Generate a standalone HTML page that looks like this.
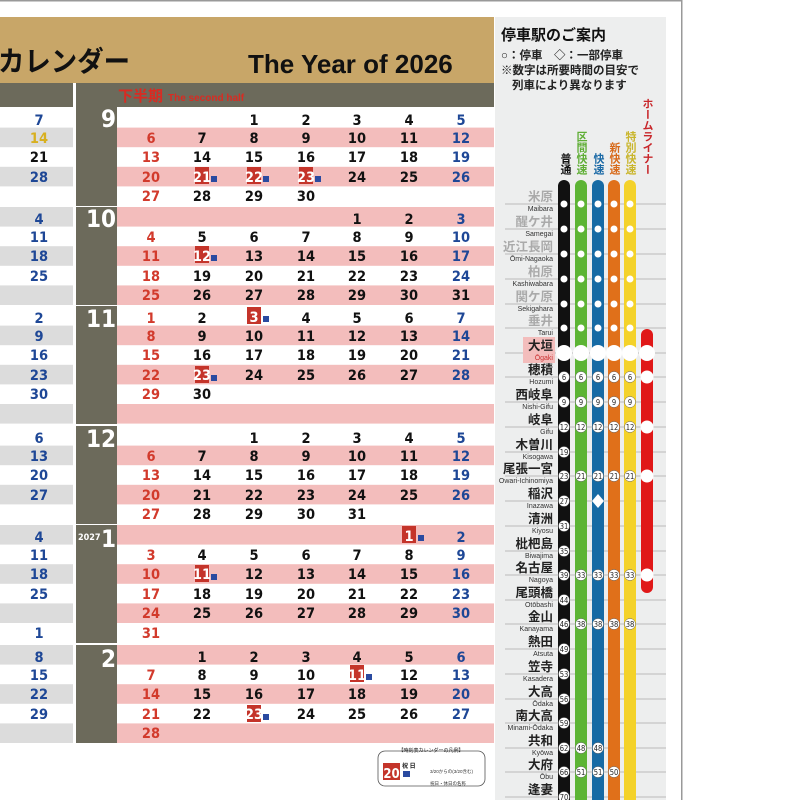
<!DOCTYPE html>
<html><head><meta charset="utf-8"><style>
html,body{margin:0;padding:0;background:#fff;width:800px;height:800px;overflow:hidden}
svg{display:block}
.n{font-family:"DejaVu Sans Condensed","Liberation Sans",sans-serif;font-weight:bold;font-size:14.5px;text-anchor:middle}
.r{fill:#d23a2c}.b{fill:#1e4796}.k{fill:#111}
.jp{font-family:"Liberation Sans","Noto Sans CJK JP",sans-serif;font-weight:bold}
.st{font-family:"Liberation Sans","Noto Sans CJK JP",sans-serif;font-weight:bold;font-size:12.5px;text-anchor:end;fill:#222}
.ro{font-family:"Liberation Sans",sans-serif;font-size:7px;text-anchor:end;fill:#333}
.g{fill:#aaa}
.c{font-family:"DejaVu Sans Condensed","Liberation Sans",sans-serif;font-size:7.5px;text-anchor:middle;fill:#222}
.mo{font-family:"DejaVu Sans Condensed","Liberation Sans",sans-serif;font-weight:bold;font-size:24px;fill:#fff;text-anchor:end}
.hb{fill:#c4342a}
</style></head><body>
<svg width="800" height="800" viewBox="0 0 800 800" xmlns="http://www.w3.org/2000/svg">
<rect x="0" y="0" width="682" height="1.5" fill="#999"/>
<rect x="681" y="0" width="1.5" height="800" fill="#999"/>
<!-- header -->
<rect x="0" y="17" width="494" height="66" fill="#c8a668"/>
<text x="-2" y="71" class="jp" font-size="28" fill="#111" textLength="132" lengthAdjust="spacingAndGlyphs">カレンダー</text>
<text x="248" y="73" font-family="Liberation Sans,sans-serif" font-weight="bold" font-size="26" fill="#111">The Year of 2026</text>
<!-- olive bands -->
<rect x="0" y="83" width="73" height="24" fill="#6c6a5b"/>
<rect x="76" y="83" width="418" height="24" fill="#6c6a5b"/>
<text x="118" y="101" class="jp" font-size="15" fill="#d92b22">下半期</text>
<text x="168" y="101" font-family="Liberation Sans,sans-serif" font-weight="bold" font-size="10" fill="#d92b22">The second half</text>
<!-- month cols -->
<rect x="76" y="107" width="41" height="99" fill="#6c6a5b"/>
<rect x="76" y="207" width="41" height="98" fill="#6c6a5b"/>
<rect x="76" y="306" width="41" height="118" fill="#6c6a5b"/>
<rect x="76" y="426" width="41" height="98" fill="#6c6a5b"/>
<rect x="76" y="525" width="41" height="118" fill="#6c6a5b"/>
<rect x="76" y="645" width="41" height="98" fill="#6c6a5b"/>
<text x="116" y="127" class="mo">9</text>
<text x="116" y="227" class="mo">10</text>
<text x="116" y="327" class="mo">11</text>
<text x="116" y="447" class="mo">12</text>
<text x="78" y="540" font-family="DejaVu Sans Condensed,Liberation Sans,sans-serif" font-weight="bold" font-size="9" fill="#fff">2027</text>
<text x="116" y="547" class="mo">1</text>
<text x="116" y="667" class="mo">2</text>
<!-- pink rows -->
<g fill="#f3bdbc">
<rect x="117" y="127.6" width="377" height="19.6"/><rect x="117" y="166.8" width="377" height="19.6"/>
<rect x="117" y="207" width="377" height="19.6"/><rect x="117" y="246.2" width="377" height="19.6"/><rect x="117" y="285.4" width="377" height="19.6"/>
<rect x="117" y="325.6" width="377" height="19.6"/><rect x="117" y="364.8" width="377" height="19.6"/><rect x="117" y="404" width="377" height="19.6"/>
<rect x="117" y="445.6" width="377" height="19.6"/><rect x="117" y="484.8" width="377" height="19.6"/>
<rect x="117" y="525" width="377" height="19.6"/><rect x="117" y="564.2" width="377" height="19.6"/><rect x="117" y="603.4" width="377" height="19.6"/>
<rect x="117" y="645" width="377" height="19.6"/><rect x="117" y="684.2" width="377" height="19.6"/><rect x="117" y="723.4" width="377" height="19.6"/>
</g>
<g fill="#dcdcdc">
<rect x="0" y="127.6" width="73" height="19.6"/><rect x="0" y="166.8" width="73" height="19.6"/>
<rect x="0" y="207" width="73" height="19.6"/><rect x="0" y="246.2" width="73" height="19.6"/><rect x="0" y="285.4" width="73" height="19.6"/>
<rect x="0" y="325.6" width="73" height="19.6"/><rect x="0" y="364.8" width="73" height="19.6"/><rect x="0" y="404" width="73" height="19.6"/>
<rect x="0" y="445.6" width="73" height="19.6"/><rect x="0" y="484.8" width="73" height="19.6"/>
<rect x="0" y="525" width="73" height="19.6"/><rect x="0" y="564.2" width="73" height="19.6"/><rect x="0" y="603.4" width="73" height="19.6"/>
<rect x="0" y="645" width="73" height="19.6"/><rect x="0" y="684.2" width="73" height="19.6"/><rect x="0" y="723.4" width="73" height="19.6"/>
</g>
<!-- left col -->
<g class="n b">
<text x="39" y="125">7</text><text x="39" y="143" fill="#d8b020">14</text><text x="39" y="162" class="k">21</text><text x="39" y="182">28</text>
<text x="39" y="224">4</text><text x="39" y="242">11</text><text x="39" y="261">18</text><text x="39" y="281">25</text>
<text x="39" y="323">2</text><text x="39" y="341">9</text><text x="39" y="360">16</text><text x="39" y="380">23</text><text x="39" y="399">30</text>
<text x="39" y="443">6</text><text x="39" y="461">13</text><text x="39" y="480">20</text><text x="39" y="500">27</text>
<text x="39" y="542">4</text><text x="39" y="560">11</text><text x="39" y="579">18</text><text x="39" y="599">25</text><text x="39" y="638">1</text>
<text x="39" y="662">8</text><text x="39" y="680">15</text><text x="39" y="699">22</text><text x="39" y="719">29</text>
</g>
<!-- holiday boxes -->
<g class="hb">
<rect x="195" y="167" width="14" height="17"/><rect x="247" y="167" width="14" height="17"/><rect x="299" y="167" width="14" height="17"/>
<rect x="195" y="246" width="14" height="17"/>
<rect x="247" y="307" width="14" height="17"/><rect x="195" y="366" width="14" height="17"/>
<rect x="402" y="526" width="14" height="17"/><rect x="195" y="565" width="14" height="17"/>
<rect x="350" y="665" width="14" height="17"/><rect x="247" y="705" width="14" height="17"/>
</g>
<g fill="#2a4aa0">
<rect x="211" y="176" width="6" height="6"/><rect x="263" y="176" width="6" height="6"/><rect x="315" y="176" width="6" height="6"/>
<rect x="211" y="255" width="6" height="6"/><rect x="263" y="316" width="6" height="6"/><rect x="211" y="375" width="6" height="6"/>
<rect x="418" y="535" width="6" height="6"/><rect x="211" y="574" width="6" height="6"/><rect x="366" y="674" width="6" height="6"/><rect x="263" y="714" width="6" height="6"/>
</g>
<g class="n k">
<text x="254" y="125">1</text><text x="306" y="125">2</text><text x="357" y="125">3</text><text x="409" y="125">4</text><text x="461" y="125" class="b">5</text>
<text x="151" y="143" class="r">6</text><text x="202" y="143">7</text><text x="254" y="143">8</text><text x="306" y="143">9</text><text x="357" y="143">10</text><text x="409" y="143">11</text><text x="461" y="143" class="b">12</text>
<text x="151" y="162" class="r">13</text><text x="202" y="162">14</text><text x="254" y="162">15</text><text x="306" y="162">16</text><text x="357" y="162">17</text><text x="409" y="162">18</text><text x="461" y="162" class="b">19</text>
<text x="151" y="182" class="r">20</text><text x="202" y="182" fill="#fff">21</text><text x="254" y="182" fill="#fff">22</text><text x="306" y="182" fill="#fff">23</text><text x="357" y="182">24</text><text x="409" y="182">25</text><text x="461" y="182" class="b">26</text>
<text x="151" y="201" class="r">27</text><text x="202" y="201">28</text><text x="254" y="201">29</text><text x="306" y="201">30</text>
<text x="357" y="224">1</text><text x="409" y="224">2</text><text x="461" y="224" class="b">3</text>
<text x="151" y="242" class="r">4</text><text x="202" y="242">5</text><text x="254" y="242">6</text><text x="306" y="242">7</text><text x="357" y="242">8</text><text x="409" y="242">9</text><text x="461" y="242" class="b">10</text>
<text x="151" y="261" class="r">11</text><text x="202" y="261" fill="#fff">12</text><text x="254" y="261">13</text><text x="306" y="261">14</text><text x="357" y="261">15</text><text x="409" y="261">16</text><text x="461" y="261" class="b">17</text>
<text x="151" y="281" class="r">18</text><text x="202" y="281">19</text><text x="254" y="281">20</text><text x="306" y="281">21</text><text x="357" y="281">22</text><text x="409" y="281">23</text><text x="461" y="281" class="b">24</text>
<text x="151" y="300" class="r">25</text><text x="202" y="300">26</text><text x="254" y="300">27</text><text x="306" y="300">28</text><text x="357" y="300">29</text><text x="409" y="300">30</text><text x="461" y="300">31</text>
<text x="151" y="323" class="r">1</text><text x="202" y="323">2</text><text x="254" y="322" fill="#fff">3</text><text x="306" y="323">4</text><text x="357" y="323">5</text><text x="409" y="323">6</text><text x="461" y="323" class="b">7</text>
<text x="151" y="341" class="r">8</text><text x="202" y="341">9</text><text x="254" y="341">10</text><text x="306" y="341">11</text><text x="357" y="341">12</text><text x="409" y="341">13</text><text x="461" y="341" class="b">14</text>
<text x="151" y="360" class="r">15</text><text x="202" y="360">16</text><text x="254" y="360">17</text><text x="306" y="360">18</text><text x="357" y="360">19</text><text x="409" y="360">20</text><text x="461" y="360" class="b">21</text>
<text x="151" y="380" class="r">22</text><text x="202" y="380" fill="#fff">23</text><text x="254" y="380">24</text><text x="306" y="380">25</text><text x="357" y="380">26</text><text x="409" y="380">27</text><text x="461" y="380" class="b">28</text>
<text x="151" y="399" class="r">29</text><text x="202" y="399">30</text>
<text x="254" y="443">1</text><text x="306" y="443">2</text><text x="357" y="443">3</text><text x="409" y="443">4</text><text x="461" y="443" class="b">5</text>
<text x="151" y="461" class="r">6</text><text x="202" y="461">7</text><text x="254" y="461">8</text><text x="306" y="461">9</text><text x="357" y="461">10</text><text x="409" y="461">11</text><text x="461" y="461" class="b">12</text>
<text x="151" y="480" class="r">13</text><text x="202" y="480">14</text><text x="254" y="480">15</text><text x="306" y="480">16</text><text x="357" y="480">17</text><text x="409" y="480">18</text><text x="461" y="480" class="b">19</text>
<text x="151" y="500" class="r">20</text><text x="202" y="500">21</text><text x="254" y="500">22</text><text x="306" y="500">23</text><text x="357" y="500">24</text><text x="409" y="500">25</text><text x="461" y="500" class="b">26</text>
<text x="151" y="519" class="r">27</text><text x="202" y="519">28</text><text x="254" y="519">29</text><text x="306" y="519">30</text><text x="357" y="519">31</text>
<text x="409" y="541" fill="#fff">1</text><text x="461" y="542" class="b">2</text>
<text x="151" y="560" class="r">3</text><text x="202" y="560">4</text><text x="254" y="560">5</text><text x="306" y="560">6</text><text x="357" y="560">7</text><text x="409" y="560">8</text><text x="461" y="560" class="b">9</text>
<text x="151" y="579" class="r">10</text><text x="202" y="579" fill="#fff">11</text><text x="254" y="579">12</text><text x="306" y="579">13</text><text x="357" y="579">14</text><text x="409" y="579">15</text><text x="461" y="579" class="b">16</text>
<text x="151" y="599" class="r">17</text><text x="202" y="599">18</text><text x="254" y="599">19</text><text x="306" y="599">20</text><text x="357" y="599">21</text><text x="409" y="599">22</text><text x="461" y="599" class="b">23</text>
<text x="151" y="618" class="r">24</text><text x="202" y="618">25</text><text x="254" y="618">26</text><text x="306" y="618">27</text><text x="357" y="618">28</text><text x="409" y="618">29</text><text x="461" y="618" class="b">30</text>
<text x="151" y="638" class="r">31</text>
<text x="202" y="662">1</text><text x="254" y="662">2</text><text x="306" y="662">3</text><text x="357" y="662">4</text><text x="409" y="662">5</text><text x="461" y="662" class="b">6</text>
<text x="151" y="680" class="r">7</text><text x="202" y="680">8</text><text x="254" y="680">9</text><text x="306" y="680">10</text><text x="357" y="680" fill="#fff">11</text><text x="409" y="680">12</text><text x="461" y="680" class="b">13</text>
<text x="151" y="699" class="r">14</text><text x="202" y="699">15</text><text x="254" y="699">16</text><text x="306" y="699">17</text><text x="357" y="699">18</text><text x="409" y="699">19</text><text x="461" y="699" class="b">20</text>
<text x="151" y="719" class="r">21</text><text x="202" y="719">22</text><text x="254" y="719" fill="#fff">23</text><text x="306" y="719">24</text><text x="357" y="719">25</text><text x="409" y="719">26</text><text x="461" y="719" class="b">27</text>
<text x="151" y="738" class="r">28</text>
</g>
<!-- legend -->
<rect x="378" y="751" width="107" height="35" rx="7" fill="#fff" stroke="#555" stroke-width="0.8"/>
<text x="431" y="752" font-family="Liberation Sans,Noto Sans CJK JP,sans-serif" font-size="5" text-anchor="middle" fill="#222">【時刻表カレンダーの凡例】</text>
<rect x="383" y="763" width="17" height="17" fill="#c4342a"/>
<text x="391.5" y="778" font-family="DejaVu Sans Condensed,sans-serif" font-weight="bold" font-size="13" text-anchor="middle" fill="#fff">20</text>
<text x="402" y="768" font-family="Liberation Sans,Noto Sans CJK JP,sans-serif" font-size="6" font-weight="bold" fill="#222">祝 日</text>
<rect x="403" y="771" width="7" height="6" fill="#2a4aa0"/>
<text x="430" y="773" font-family="Liberation Sans,Noto Sans CJK JP,sans-serif" font-size="4.5" fill="#333">3/20からの(3/20含む)</text>
<text x="430" y="785" font-family="Liberation Sans,Noto Sans CJK JP,sans-serif" font-size="4.5" fill="#333">祝日・休日の名称</text>
<!-- right panel -->
<rect x="495" y="17" width="171" height="783" fill="#edeeee"/>
<text x="501" y="40" class="jp" font-size="15" fill="#111">停車駅のご案内</text>
<text x="501" y="59" class="jp" font-size="11.5" fill="#222">○：停車　◇：一部停車</text>
<text x="501" y="74" class="jp" font-size="11.5" fill="#222">※数字は所要時間の目安で</text>
<text x="512" y="89" class="jp" font-size="11.5" fill="#222">列車により異なります</text>
<g class="jp" font-size="11" style="writing-mode:vertical-rl" text-anchor="end">
<text x="565" y="175" fill="#111">普通</text>
<text x="581" y="175" fill="#5fae35">区間快速</text>
<text x="598" y="175" fill="#1c6aa6">快速</text>
<text x="614" y="175" fill="#d86a1a">新快速</text>
<text x="630" y="175" fill="#c9b52a">特別快速</text>
<text x="647" y="175" fill="#c8262a">ホームライナー</text>
</g>
<g stroke="#aaa" stroke-width="0.8">
<line x1="505" x2="666" y1="204" y2="204"/><line x1="505" x2="666" y1="229" y2="229"/><line x1="505" x2="666" y1="254" y2="254"/><line x1="505" x2="666" y1="279" y2="279"/><line x1="505" x2="666" y1="304" y2="304"/><line x1="505" x2="666" y1="328" y2="328"/><line x1="505" x2="666" y1="353" y2="353"/><line x1="505" x2="666" y1="377" y2="377"/><line x1="505" x2="666" y1="402" y2="402"/><line x1="505" x2="666" y1="427" y2="427"/><line x1="505" x2="666" y1="452" y2="452"/><line x1="505" x2="666" y1="476" y2="476"/><line x1="505" x2="666" y1="501" y2="501"/><line x1="505" x2="666" y1="526" y2="526"/><line x1="505" x2="666" y1="551" y2="551"/><line x1="505" x2="666" y1="575" y2="575"/><line x1="505" x2="666" y1="600" y2="600"/><line x1="505" x2="666" y1="624" y2="624"/><line x1="505" x2="666" y1="649" y2="649"/><line x1="505" x2="666" y1="674" y2="674"/><line x1="505" x2="666" y1="699" y2="699"/><line x1="505" x2="666" y1="723" y2="723"/><line x1="505" x2="666" y1="748" y2="748"/><line x1="505" x2="666" y1="772" y2="772"/><line x1="505" x2="666" y1="797" y2="797"/>
</g>
<rect x="523" y="337" width="32" height="26" fill="#f3bdbc"/>
<rect x="558" y="180" width="12" height="630" rx="6" fill="#111"/>
<rect x="575" y="180" width="12" height="630" rx="6" fill="#5cb434"/>
<rect x="592" y="180" width="12" height="630" rx="6" fill="#166aa4"/>
<rect x="608" y="180" width="12" height="630" rx="6" fill="#e0701a"/>
<rect x="624" y="180" width="12" height="630" rx="6" fill="#f4d22a"/>
<rect x="641" y="329" width="12" height="264" rx="6" fill="#e01818"/>
<g fill="#fff">
<circle cx="564" cy="204" r="3.5"/><circle cx="581" cy="204" r="3.5"/><circle cx="598" cy="204" r="3.5"/><circle cx="614" cy="204" r="3.5"/><circle cx="630" cy="204" r="3.5"/>
<circle cx="564" cy="229" r="3.5"/><circle cx="581" cy="229" r="3.5"/><circle cx="598" cy="229" r="3.5"/><circle cx="614" cy="229" r="3.5"/><circle cx="630" cy="229" r="3.5"/>
<circle cx="564" cy="254" r="3.5"/><circle cx="581" cy="254" r="3.5"/><circle cx="598" cy="254" r="3.5"/><circle cx="614" cy="254" r="3.5"/><circle cx="630" cy="254" r="3.5"/>
<circle cx="564" cy="279" r="3.5"/><circle cx="581" cy="279" r="3.5"/><circle cx="598" cy="279" r="3.5"/><circle cx="614" cy="279" r="3.5"/><circle cx="630" cy="279" r="3.5"/>
<circle cx="564" cy="304" r="3.5"/><circle cx="581" cy="304" r="3.5"/><circle cx="598" cy="304" r="3.5"/><circle cx="614" cy="304" r="3.5"/><circle cx="630" cy="304" r="3.5"/>
<circle cx="564" cy="328" r="3.5"/><circle cx="581" cy="328" r="3.5"/><circle cx="598" cy="328" r="3.5"/><circle cx="614" cy="328" r="3.5"/><circle cx="630" cy="328" r="3.5"/>
<circle cx="564" cy="353" r="8"/><circle cx="581" cy="353" r="8"/><circle cx="598" cy="353" r="8"/><circle cx="614" cy="353" r="8"/><circle cx="630" cy="353" r="8"/><circle cx="647" cy="353" r="8"/>
<circle cx="647" cy="377" r="6.5"/><circle cx="647" cy="427" r="6.5"/><circle cx="647" cy="476" r="6.5"/><circle cx="647" cy="575" r="6.5"/>
<path d="M598 494 L604 501 L598 508 L592 501Z"/>
</g>
<g fill="#fff" stroke="#666" stroke-width="0.5">
<circle cx="564" cy="377" r="5.5"/><circle cx="581" cy="377" r="5.5"/><circle cx="598" cy="377" r="5.5"/><circle cx="614" cy="377" r="5.5"/><circle cx="630" cy="377" r="5.5"/>
<circle cx="564" cy="402" r="5.5"/><circle cx="581" cy="402" r="5.5"/><circle cx="598" cy="402" r="5.5"/><circle cx="614" cy="402" r="5.5"/><circle cx="630" cy="402" r="5.5"/>
<circle cx="564" cy="427" r="5.5"/><circle cx="581" cy="427" r="5.5"/><circle cx="598" cy="427" r="5.5"/><circle cx="614" cy="427" r="5.5"/><circle cx="630" cy="427" r="5.5"/>
<circle cx="564" cy="452" r="5.5"/>
<circle cx="564" cy="476" r="5.5"/><circle cx="581" cy="476" r="5.5"/><circle cx="598" cy="476" r="5.5"/><circle cx="614" cy="476" r="5.5"/><circle cx="630" cy="476" r="5.5"/>
<circle cx="564" cy="501" r="5.5"/><circle cx="564" cy="526" r="5.5"/><circle cx="564" cy="551" r="5.5"/>
<circle cx="564" cy="575" r="5.5"/><circle cx="581" cy="575" r="5.5"/><circle cx="598" cy="575" r="5.5"/><circle cx="614" cy="575" r="5.5"/><circle cx="630" cy="575" r="5.5"/>
<circle cx="564" cy="600" r="5.5"/>
<circle cx="564" cy="624" r="5.5"/><circle cx="581" cy="624" r="5.5"/><circle cx="598" cy="624" r="5.5"/><circle cx="614" cy="624" r="5.5"/><circle cx="630" cy="624" r="5.5"/>
<circle cx="564" cy="649" r="5.5"/><circle cx="564" cy="674" r="5.5"/><circle cx="564" cy="699" r="5.5"/><circle cx="564" cy="723" r="5.5"/>
<circle cx="564" cy="748" r="5.5"/><circle cx="581" cy="748" r="5.5"/><circle cx="598" cy="748" r="5.5"/>
<circle cx="564" cy="772" r="5.5"/><circle cx="581" cy="772" r="5.5"/><circle cx="598" cy="772" r="5.5"/><circle cx="614" cy="772" r="5.5"/>
<circle cx="564" cy="797" r="5.5"/>
</g>
<g class="c">
<text x="564" y="380">6</text><text x="581" y="380">6</text><text x="598" y="380">6</text><text x="614" y="380">6</text><text x="630" y="380">6</text>
<text x="564" y="405">9</text><text x="581" y="405">9</text><text x="598" y="405">9</text><text x="614" y="405">9</text><text x="630" y="405">9</text>
<text x="564" y="430">12</text><text x="581" y="430">12</text><text x="598" y="430">12</text><text x="614" y="430">12</text><text x="630" y="430">12</text>
<text x="564" y="455">19</text>
<text x="564" y="479">23</text><text x="581" y="479">21</text><text x="598" y="479">21</text><text x="614" y="479">21</text><text x="630" y="479">21</text>
<text x="564" y="504">27</text><text x="564" y="529">31</text><text x="564" y="554">35</text>
<text x="564" y="578">39</text><text x="581" y="578">33</text><text x="598" y="578">33</text><text x="614" y="578">33</text><text x="630" y="578">33</text>
<text x="564" y="603">44</text>
<text x="564" y="627">46</text><text x="581" y="627">38</text><text x="598" y="627">38</text><text x="614" y="627">38</text><text x="630" y="627">38</text>
<text x="564" y="652">49</text><text x="564" y="677">53</text><text x="564" y="702">56</text><text x="564" y="726">59</text>
<text x="564" y="751">62</text><text x="581" y="751">48</text><text x="598" y="751">48</text>
<text x="564" y="775">66</text><text x="581" y="775">51</text><text x="598" y="775">51</text><text x="614" y="775">50</text>
<text x="564" y="800">70</text>
</g>
<g class="st">
<text x="553" y="201" class="g">米原</text><text x="553" y="226" class="g">醒ケ井</text><text x="553" y="251" class="g">近江長岡</text><text x="553" y="276" class="g">柏原</text><text x="553" y="301" class="g">関ケ原</text><text x="553" y="325" class="g">垂井</text>
<text x="553" y="350">大垣</text><text x="553" y="374">穂積</text><text x="553" y="399">西岐阜</text><text x="553" y="424">岐阜</text><text x="553" y="449">木曽川</text><text x="553" y="473">尾張一宮</text><text x="553" y="498">稲沢</text><text x="553" y="523">清洲</text><text x="553" y="548">枇杷島</text><text x="553" y="572">名古屋</text><text x="553" y="597">尾頭橋</text><text x="553" y="621">金山</text><text x="553" y="646">熱田</text><text x="553" y="671">笠寺</text><text x="553" y="696">大高</text><text x="553" y="720">南大高</text><text x="553" y="745">共和</text><text x="553" y="769">大府</text><text x="553" y="794">逢妻</text>
</g>
<g class="ro">
<text x="553" y="211">Maibara</text><text x="553" y="236">Samegai</text><text x="553" y="261">Ōmi-Nagaoka</text><text x="553" y="286">Kashiwabara</text><text x="553" y="311">Sekigahara</text><text x="553" y="335">Tarui</text>
<text x="553" y="360" fill="#c33">Ōgaki</text><text x="553" y="384">Hozumi</text><text x="553" y="409">Nishi-Gifu</text><text x="553" y="434">Gifu</text><text x="553" y="459">Kisogawa</text><text x="553" y="483">Owari-Ichinomiya</text><text x="553" y="508">Inazawa</text><text x="553" y="533">Kiyosu</text><text x="553" y="558">Biwajima</text><text x="553" y="582">Nagoya</text><text x="553" y="607">Otōbashi</text><text x="553" y="631">Kanayama</text><text x="553" y="656">Atsuta</text><text x="553" y="681">Kasadera</text><text x="553" y="706">Ōdaka</text><text x="553" y="730">Minami-Ōdaka</text><text x="553" y="755">Kyōwa</text><text x="553" y="779">Ōbu</text>
</g>
</svg>
</body></html>
